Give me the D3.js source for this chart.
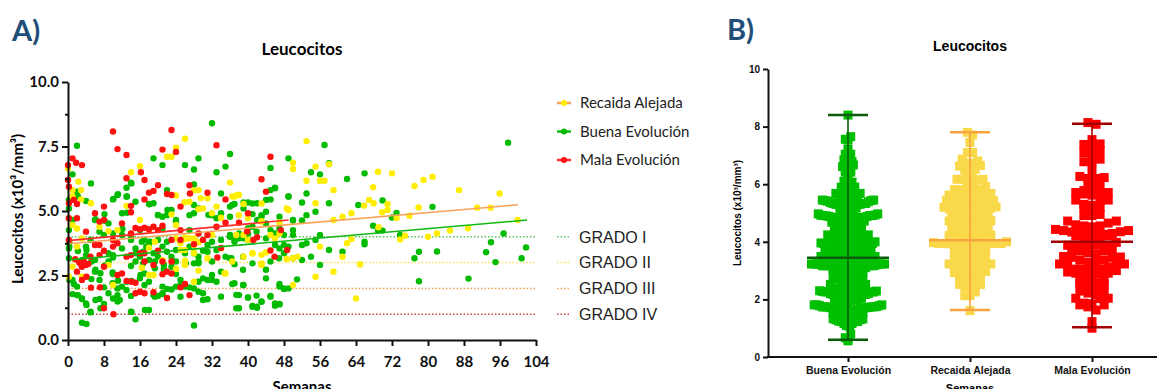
<!DOCTYPE html>
<html>
<head>
<meta charset="utf-8">
<script src="https://cdn.jsdelivr.net/npm/d3@7"></script>
<style>
body { margin: 0; background: #fff; }
svg { display: block; }
</style>
</head>
<body>
<svg id="svg" width="1157" height="389"></svg>
<script>
// [semanas, leucocitos]
const buena = [
  [2,7.53],[1,6.42],[0.2,5.43],[2,5.75],[0.2,5.1],[0.2,4.26],[1,4.65],[0.2,3.55],[0.2,3.17],[1,2.33],[2,2.07],[1,1.78],[2,1.74],[3.1,1.59],[4,1.42],[3.1,0.67],[4.1,0.62],[5,1.1],[5.1,6.07],[4,5.39],
  [6,4.65],[7,4.2],[8,4.07],[6,3.1],[6,2.65],[7,2.33],[8,2.04],[9,1.81],[10,1.61],[11,1.49],[7,1.59],[8,1.4],[10,5.45],[11,5.62],[12,4.91],[13,5.9],[13,5.56],[14,6.1],[15,5.36],[15,3.55],
  [14,2.87],[14,1.1],[15,0.8],[16,4.26],[16,2.39],[17,2.58],[18,1.16],[18,5.27],[19,7.04],[19,5.3],[20,4.84],[21,6.78],[21,1.81],[22,5.81],[23,5.04],[24,4.65],[26,6.78],[28,6.03],[29,7.04],[28,6.61],
  [32,8.4],[33,6.5],[34,5.68],[35,6.72],[36,7.21],[32,4.84],[33,4.72],[34,4.91],[36,5.17],[37,5.27],[40,5.33],[42,5.3],[44,5.43],[45,5.81],[46,5.88],[45,6.67],[49,7.04],[49,5.56],[52,5.33],[53,5.68],
  [54,6.5],[56,6.42],[57,7.56],[58,6.85],[58,5.3],[62,6.24],[64.5,5.23],[55,4.97],[53,4.84],[52,4.63],[50,4.63],[56,4.07],[58,3.49],[61,3.42],[56,2.91],[54,3.23],[52,3.1],[50,3.17],[49,3.62],[48,3.36],
  [47,2.07],[48,1.98],[46,1.42],[47,1.4],[45,1.71],[43,1.49],[42,1.29],[41,1.32],[40,1.65],[38,1.23],[38,1.74],[39,2.13],[37,2.2],[37,2.94],[36,3.17],[35,3.23],[33,2.26],[32,2.33],[31,1.58],[30,1.81],
  [29,2.26],[28,0.56],[27,2.04],[25,1.68],[25,2.13],[24,2.56],[23,1.96],[21,2.07],[20,1.71],[19,1.74],[18,2.26],[17,2.13],[14,1.71],[13,1.94],[12,2.07],[11,2.0],[10,2.56],[9,3.04],[9,3.36],[10,3.29],
  [12,4.07],[14,3.88],[15,3.04],[16,3.23],[17,3.88],[18,3.68],[19,3.36],[20,3.23],[21,3.62],[22,3.81],[23,3.23],[24,3.49],[26,3.36],[27,3.62],[28,3.36],[29,2.97],[30,3.46],[31,3.68],[32,3.81],[33,3.49],
  [34,3.88],[36,4.0],[37,3.88],[38,4.13],[39,3.94],[40,4.13],[41,4.39],[42,4.65],[43,4.78],[44,4.52],[45,4.26],[46,4.13],[47,4.32],[48,4.07],[52,3.68],[53,3.75],[55,3.88],[50,4.26],[28,4.91],[27,4.26],
  [22,4.84],[20,3.88],[18,3.1],[9,4.52],[10,4.13],[4,3.62],[5,3.88],[4,3.29],[3.1,3.1],
  [2.2,5.56],[6.1,4.68],[8.1,4.88],[8.1,4.62],[11.1,5.65],[10.1,5.47],[13.1,5.56],[14.1,6.07],[13.1,4.93],[12.1,4.3],[0.3,3.81],[0.3,3.62],[2.2,3.45],[3.1,3.04],[4.1,3.49],[5.2,3.04],[6.1,2.72],[7.2,2.59],[5.2,2.36],[2.2,1.74],
  [3.1,1.61],[4.1,1.36],[6.1,1.55],[7.2,1.23],[5,1.07],[9.9,2.2],[11,1.74],[11.5,1.55],[9.9,2.62],[11.1,2.3],[8.1,2.88],[13.1,2.26],[14.1,2.29],[16.1,2.52],[14.1,1.09],[0.3,2.33],[1.3,2.17],[10,3.2],[12,3.55],[14,3.96],[15.1,3.36],
  [20,4.85],[18.1,5.26],[21,4.78],[21,4.33],[22.1,5.04],[24,4.59],[27,4.84],[28,5.23],[29,5.1],[31.2,4.85],[16.4,3.81],[17.4,3.62],[18.2,3.81],[19.3,3.04],[19.3,2.78],[21.3,2.91],[21.3,2.75],[22,3.42],[23,2.84],[24,3.04],
  [25,2.33],[24,2.07],[22,1.98],[19.3,1.68],[17.1,1.16],[21,1.78],[26.2,2.97],[28,2.97],[29,3.04],[29,3.23],[28,2.0],[29,1.87],[30,1.55],[30,2.39],[31,2.33],[32,2.52],[26,2.07],[16.7,3.42],[16.7,2.97],[32,3.04],[31,3.42],
  [36.5,5.23],[39,5.33],[41,5.29],[45,5.45],[46,5.9],[49,5.56],[34,4.9],[36,4.78],[39,5.1],[41,4.88],[44,4.97],[43,4.84],[50,4.65],[47,4.78],[36,4.07],[37,3.81],[38,3.94],[40,4.33],[40,3.88],[41.9,4.2],
  [44,3.94],[46,3.68],[47,3.55],[48,3.68],[50,4.07],[36.3,3.17],[38.9,3.23],[41,2.97],[44,2.72],[45,3.04],[46.9,3.17],[34,2.65],[38.9,2.72],[44,2.39],[36.5,2.17],[38.9,2.13],[47,2.17],[48,2.0],[49,2.0],[50.9,2.35],
  [37.4,1.75],[40,1.65],[41.9,1.72],[41,1.29],[42,1.25],[43,1.48],[45,1.68],[46,1.33],[47,1.38],[37.4,1.23],[34,1.68],
  [65.9,6.46],[65.9,3.81],[65.9,3.71],[67.8,4.43],[68.9,4.24],[69.9,5.41],[69.9,4.24],[72,4.75],[73,4.92],[73.8,4.07],[77,3.17],[78,3.42],[78,2.28],[81,5.16],[82,3.43],[89,2.38],[92.9,3.4],[94,3.79],[95,3.02],[96.8,4.13],
  [97.8,7.65],[100.8,3.17],[101.8,3.59]
]
const recaida = [
  [0,6.65],[1,5.81],[1,5.56],[2.3,6.14],[2.9,5.81],[2.9,5.45],[0.2,4.72],[1,4.46],[2,4.32],[2,3.62],[3.1,3.94],[0.2,2.45],[1,2.84],[3.1,2.45],[5.1,5.3],[7,4.39],[9,4.22],[9,2.91],[10,2.13],[11,4.26],
  [13,5.2],[14,6.5],[16,6.74],[16,4.65],[18,4.26],[18,3.58],[19,2.52],[23,7.1],[24,7.45],[26,7.8],[24,4.46],[25,3.75],[26,3.97],[27,3.93],[27,5.36],[28,3.94],[29,5.81],[30,5.1],[31,5.49],[32,4.91],
  [33,5.17],[34,4.74],[36,6.1],[37,5.56],[38,5.62],[39,5.27],[40,4.72],[40,3.88],[41,3.36],[43,4.59],[44,3.39],[47,4.13],[49,5.04],[50,6.87],[50,6.63],[53,7.71],[53,6.17],[55,6.72],[55,5.3],[56,6.17],
  [57,6.17],[58,6.81],[59,5.81],[56,3.62],[55,2.45],[59,2.65],[61,3.23],[64,1.61],[50,2.13],[50,3.17],[29,2.69],[26,3.07],[35,2.58],[38,4.84],[43,2.97],[59,4.65],[61,4.78],[63,4.91],[62,3.75],[63,3.91],
  [64.9,2.93],[65.8,5.21],[66.9,5.43],[67.8,5.92],[67.9,5.3],[68.9,6.52],[69,4.37],[69.8,4.95],[71,5.27],[71,5.04],[72,6.46],[73,4.73],[73.8,3.9],[74.9,4.04],[75.9,4.82],[77,5.97],[77.9,5.14],[79,6.2],[80,4.0],[81,6.33],
  [82,4.13],[84.9,4.24],[86.9,5.81],[88.9,4.33],[90.9,5.13],[93.9,5.13],[95.9,5.68],[99.9,4.65],
  [22,7.1],[24,5.6],[25.9,5.34],[29.5,5.5],[29,5.07],[28,5.8],[23,4.87],[19.3,3.81],[24,3.94],[25,3.84],[26,3.91],[27,3.94],[28,3.68],[29,3.79],[25,3.49],[26,3.49],[28,3.36],[24,2.75],[26,2.91],[28,2.26],
  [18,2.52],[21,3.1],[16.4,2.8],[31,3.17],[32,4.07],
  [36.5,5.56],[37.6,5.62],[43,5.29],[48.6,5.1],[43,4.6],[45,4.07],[46,3.94],[47,4.56],[37.4,4.07],[39,3.23],[41,3.36],[43,3.3],[43,2.91],[36.5,3.04],[39,4.07],[48.6,3.14],[34.8,2.59],[34,3.55],[51,3.23]
]
const mala = [
  [0,6.78],[0,6.2],[0.2,5.94],[0.2,5.3],[0.2,4.72],[0.2,3.88],[1,7.04],[1.8,6.87],[3.1,6.78],[2,5.27],[2,4.72],[1.3,5.43],[4,4.2],[10,8.08],[11,7.4],[13,7.17],[13,6.27],[14,5.2],[14,4.95],[16.2,6.5],
  [17,6.2],[17,5.45],[18,5.71],[19,5.78],[20,6.0],[21,7.38],[23,8.14],[24,7.29],[33,7.55],[27,6.0],[27.1,5.68],[25,5.17],[22,5.66],[23,5.62],[31,5.71],[35,5.45],[43,6.23],[44,5.75],[45,7.1],[48.7,3.49],
  [47.3,4.26],[45,3.47],[45.9,3.23],[33.2,3.2],[34,3.57],[39.8,4.21],[41.2,3.88],[42,3.98],[40,4.91],[38,4.55],[28,3.71],[26,2.17],[27,1.74],[22,1.63],[19,1.85],[17,1.81],[16,1.87],[15,1.81],[15,2.22],[14.1,2.26],
  [13,2.29],[12,2.58],[11,2.52],[10.1,1.0],[8,1.23],[8,2.84],[7,3.29],[7,3.68],[8,3.46],[8,4.65],[8,5.17],[7,4.59],[6,4.91],[6,3.68],[5,3.23],[4,2.91],[3.1,2.84],[4.1,2.45],[3.1,2.33],[2,2.65],
  [1.6,3.13],[5.1,2.03],[7.1,2.04],[17,4.35],[18,4.29],[19,4.39],[20,4.26],[21,4.43],[16,4.29],[15,4.34],[14,4.13],[12,4.52],[10,3.88],[10,3.62],[11,3.75],[20,3.46],[23,3.88],[25,4.26],[25,3.88],[29,4.13],
  [30,3.88],[31,4.07],[33,4.39],[35,4.55],[21,3.04],[23,3.04],[17,3.04],[19,2.91],[17,3.36],[16,3.36],[14,3.29],[13,3.23],[22,2.65],[21,2.55],[23,2.58],[25,2.04],[2.5,3.0],[3.5,3.05],[4.5,2.95],[3,2.9]
]

// lineas de regresion [semanas, valor] en los extremos
const fitBuena = [[0,3.1],[102,4.65]]
const fitRecaida = [[0,3.73],[100,5.24]]
const fitMala = [[0,3.85],[49,4.65]]

const gradeLabels = ["GRADO I","GRADO II","GRADO III","GRADO IV"]
const gradeValues = [4,3,2,1]
const seriesLabels = ["Recaida Alejada","Buena Evolución","Mala Evolución"]

const xTicksA = [0,8,16,24,32,40,48,56,64,72,80,88,96,104]
const yTicksA = [0,2.5,5,7.5,10]
const yMinorA = [1.25,3.75,6.25,8.75]

// panel B
const categoriesB = ["Buena Evolución","Recaida Alejada","Mala Evolución"]
const medianB = [3.45,4.05,4.0]
const minB = [0.6,1.63,1.03]
const maxB = [8.4,7.8,8.1]
const yTicksB = [0,2,4,6,8,10]

const fontA = "Lato, 'Open Sans', sans-serif"
const fontB = "'Liberation Sans', Arial, sans-serif"

const svg = d3.select("#svg")

// ---------- A ----------
const xA = d3.scaleLinear().domain([0,104]).range([68,536])
const yA = d3.scaleLinear().domain([0,10]).range([340,82])

const gradeColors = ["#5cc45c","#ffe060","#f8a050","#c84848"]

svg.append("g")
  .selectAll("line")
  .data(gradeValues)
  .join("line")
    .attr("x1", xA(0)).attr("x2", xA(104))
    .attr("y1", d => yA(d)).attr("y2", d => yA(d))
    .attr("stroke", (d, i) => gradeColors[i])
    .attr("stroke-width", 1.5)
    .attr("stroke-dasharray", "1.5,2")

const pointGroups = [
  {data: buena, color: "#00bb00"},
  {data: recaida, color: "#ffee00"},
  {data: mala, color: "#ff1010"}
]
pointGroups.forEach(g => {
  svg.append("g")
    .selectAll("circle")
    .data(g.data)
    .join("circle")
      .attr("cx", d => xA(d[0]))
      .attr("cy", d => yA(d[1]))
      .attr("r", 3.2)
      .attr("fill", g.color)
})

const line = d3.line().x(d => xA(d[0])).y(d => yA(d[1]))
const fits = [
  {data: fitBuena, color: "#12b812"},
  {data: fitRecaida, color: "#f9a45a"},
  {data: fitMala, color: "#ff2a2a"}
]
fits.forEach(f => {
  svg.append("path")
    .attr("d", line(f.data))
    .attr("fill", "none")
    .attr("stroke", f.color)
    .attr("stroke-width", 1.6)
})

svg.append("g")
  .attr("transform", "translate(68,0)")
  .call(d3.axisLeft(yA).tickValues(yMinorA).tickSize(3).tickFormat(""))
  .call(g => g.select(".domain").remove())
  .call(g => g.selectAll(".tick line").attr("stroke-width", 2).attr("stroke", "#111"))

svg.append("g")
  .attr("transform", "translate(68,0)")
  .call(d3.axisLeft(yA).tickValues(yTicksA).tickFormat(d3.format(".1f")).tickSize(6).tickSizeOuter(0).tickPadding(3))
  .call(g => g.select(".domain").attr("stroke-width", 2).attr("stroke", "#111"))
  .call(g => g.selectAll(".tick line").attr("stroke-width", 2).attr("stroke", "#111"))
  .call(g => g.selectAll("text").attr("font-family", fontA).attr("font-weight", "bold").attr("font-size", 15).attr("fill", "#111"))

svg.append("g")
  .attr("transform", "translate(0,340)")
  .call(d3.axisBottom(xA).tickValues(xTicksA).tickSize(6).tickSizeOuter(0).tickPadding(10))
  .call(g => g.select(".domain").attr("stroke-width", 2).attr("stroke", "#111"))
  .call(g => g.selectAll(".tick line").attr("stroke-width", 2).attr("stroke", "#111"))
  .call(g => g.selectAll("text").attr("font-family", fontA).attr("font-weight", "bold").attr("font-size", 15).attr("fill", "#111"))

svg.append("text")
  .attr("x", 12).attr("y", 41)
  .attr("font-family", fontA).attr("font-weight", "bold").attr("font-size", 29)
  .attr("fill", "#1f4e79")
  .text("A)")

svg.append("text")
  .attr("x", 302).attr("y", 55)
  .attr("text-anchor", "middle")
  .attr("font-family", fontA).attr("font-weight", "bold").attr("font-size", 17)
  .text("Leucocitos")

// cortado por el borde inferior, como en el original
svg.append("text")
  .attr("x", 302).attr("y", 392)
  .attr("text-anchor", "middle")
  .attr("font-family", fontA).attr("font-weight", "bold").attr("font-size", 15)
  .text("Semanas")

svg.append("text")
  .attr("transform", "translate(23,209) rotate(-90)")
  .attr("text-anchor", "middle")
  .attr("font-family", fontA).attr("font-weight", "bold").attr("font-size", 15)
  .text("Leucocitos (x10³/mm³)")

// leyenda series
const legendColors = [["#f9a45a","#ffee00"],["#12b812","#00bb00"],["#ff2a2a","#ff1010"]]
const legend = svg.append("g")
  .selectAll("g")
  .data(seriesLabels)
  .join("g")
    .attr("transform", (d, i) => `translate(557,${103 + i * 28.5})`)
legend.append("line")
  .attr("x1", 0).attr("x2", 14)
  .attr("stroke", (d, i) => legendColors[i][0])
  .attr("stroke-width", 2.5)
legend.append("circle")
  .attr("cx", 7).attr("r", 3)
  .attr("fill", (d, i) => legendColors[i][1])
legend.append("text")
  .attr("x", 23).attr("dy", "0.35em")
  .attr("font-family", fontA).attr("font-size", 15).attr("fill", "#222")
  .text(d => d)

// leyenda grados
const gradeLegend = svg.append("g")
  .selectAll("g")
  .data(gradeValues)
  .join("g")
    .attr("transform", d => `translate(557,${yA(d)})`)
gradeLegend.append("line")
  .attr("x1", 0).attr("x2", 14)
  .attr("stroke", (d, i) => gradeColors[i])
  .attr("stroke-width", 1.5)
  .attr("stroke-dasharray", "1.5,2")
gradeLegend.append("text")
  .attr("x", 22).attr("dy", "0.36em")
  .attr("font-family", fontB).attr("font-size", 16).attr("fill", "#222")
  .text((d, i) => gradeLabels[i])

// ---------- B ----------
const xB = d3.scalePoint().domain(categoriesB).range([848,1092])
const yB = d3.scaleLinear().domain([0,10]).range([357,69])

const swarmColors = ["#00bf00","#f9d949","#ff0000"]
const barColors = ["#0b5d0b","#f9a340","#a50000"]
const swarmData = [buena, recaida, mala]
const rowH = 7, sq = 9, maxW = 82

swarmData.forEach((data, gi) => {
  const cat = categoriesB[gi]
  const vals = data.map(d => d[1])
  const bins = d3.group(vals, v => Math.round(yB(v) / rowH))
  const maxN = d3.max(Array.from(bins.values()), b => b.length)
  const step = Math.min(sq, (maxW - sq) / (maxN - 1))
  const pts = []
  bins.forEach(b => {
    b.sort(d3.ascending).forEach((v, i) => {
      const k = i % 2 === 0 ? i / 2 : -(i + 1) / 2
      const shift = b.length % 2 === 0 ? 0.5 : 0
      pts.push({x: xB(cat) + (k + shift) * step, v})
    })
  })
  svg.append("g")
    .selectAll("rect")
    .data(pts)
    .join("rect")
      .attr("x", d => d.x - sq / 2)
      .attr("y", d => yB(d.v) - sq / 2)
      .attr("width", sq).attr("height", sq)
      .attr("fill", swarmColors[gi])
})

const bars = svg.append("g")
  .selectAll("g")
  .data(categoriesB)
  .join("g")
bars.append("line")
  .attr("x1", d => xB(d)).attr("x2", d => xB(d))
  .attr("y1", (d, i) => yB(minB[i])).attr("y2", (d, i) => yB(maxB[i]))
  .attr("stroke", (d, i) => barColors[i]).attr("stroke-width", 1.6)
bars.append("line")
  .attr("x1", d => xB(d) - 20).attr("x2", d => xB(d) + 20)
  .attr("y1", (d, i) => yB(minB[i])).attr("y2", (d, i) => yB(minB[i]))
  .attr("stroke", (d, i) => barColors[i]).attr("stroke-width", 2.5)
bars.append("line")
  .attr("x1", d => xB(d) - 20).attr("x2", d => xB(d) + 20)
  .attr("y1", (d, i) => yB(maxB[i])).attr("y2", (d, i) => yB(maxB[i]))
  .attr("stroke", (d, i) => barColors[i]).attr("stroke-width", 2.5)
bars.append("line")
  .attr("x1", d => xB(d) - 41).attr("x2", d => xB(d) + 41)
  .attr("y1", (d, i) => yB(medianB[i])).attr("y2", (d, i) => yB(medianB[i]))
  .attr("stroke", (d, i) => barColors[i]).attr("stroke-width", 2.5)

svg.append("g")
  .attr("transform", "translate(768,0)")
  .call(d3.axisLeft(yB).tickValues(yTicksB).tickSize(5).tickSizeOuter(0).tickPadding(3))
  .call(g => g.select(".domain").attr("stroke-width", 2).attr("stroke", "#111"))
  .call(g => g.selectAll(".tick line").attr("stroke-width", 2).attr("stroke", "#111"))
  .call(g => g.selectAll("text").attr("font-family", fontB).attr("font-weight", "bold").attr("font-size", 10).attr("fill", "#111"))

svg.append("g")
  .attr("transform", "translate(0,357)")
  .call(d3.axisBottom(xB).tickSize(5).tickSizeOuter(0).tickPadding(4.5))
  .call(g => g.select(".domain").attr("d", "M767,0H1157").attr("stroke-width", 2).attr("stroke", "#111"))
  .call(g => g.selectAll(".tick line").attr("stroke-width", 2).attr("stroke", "#111"))
  .call(g => g.selectAll("text").attr("font-family", fontB).attr("font-weight", "bold").attr("font-size", 10.5).attr("fill", "#111"))

svg.append("text")
  .attr("x", 727).attr("y", 40)
  .attr("font-family", fontA).attr("font-weight", "bold").attr("font-size", 29)
  .attr("fill", "#1f4e79")
  .text("B)")

svg.append("text")
  .attr("x", 970).attr("y", 51)
  .attr("text-anchor", "middle")
  .attr("font-family", fontB).attr("font-weight", "bold").attr("font-size", 14)
  .text("Leucocitos")

// cortado por el borde inferior, como en el original
svg.append("text")
  .attr("x", 970).attr("y", 392)
  .attr("text-anchor", "middle")
  .attr("font-family", fontB).attr("font-weight", "bold").attr("font-size", 11)
  .text("Semanas")

svg.append("text")
  .attr("transform", "translate(741,213) rotate(-90)")
  .attr("text-anchor", "middle")
  .attr("font-family", fontB).attr("font-weight", "bold").attr("font-size", 10)
  .text("Leucocitos (x10³/mm³)")
</script>
</body>
</html>
